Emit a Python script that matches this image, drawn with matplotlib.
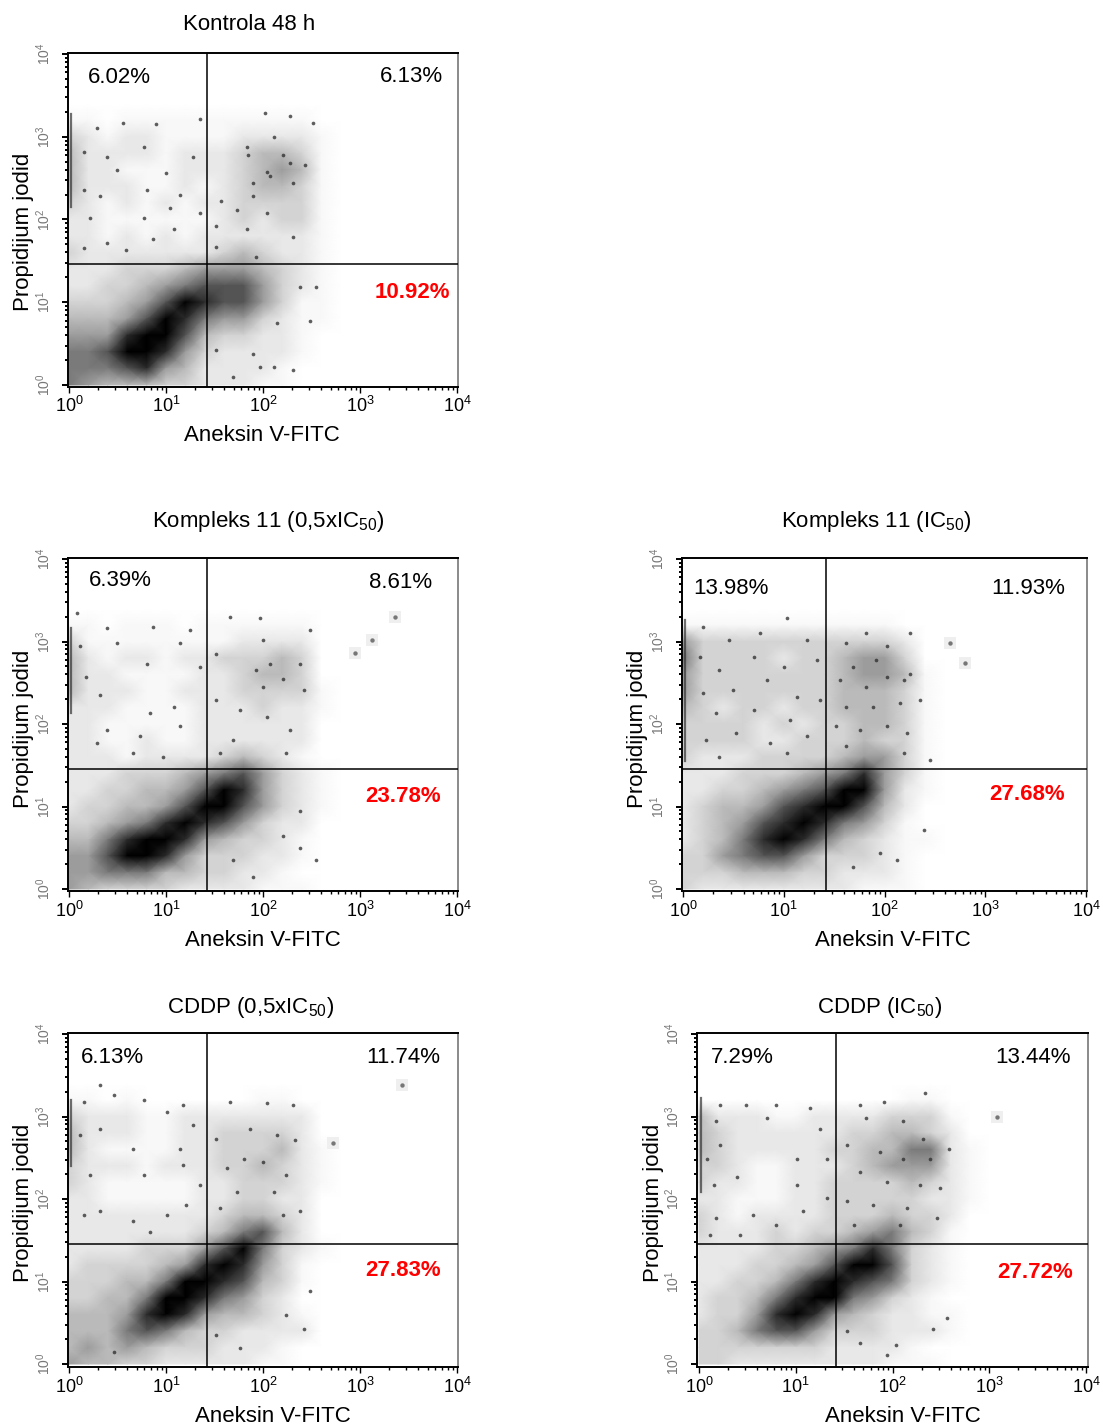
import matplotlib
matplotlib.use("Agg")
import matplotlib.pyplot as plt
from matplotlib.colors import PowerNorm
from matplotlib.ticker import LogLocator, NullFormatter
import numpy as np

plt.rcParams["font.family"] = ["Liberation Sans", "DejaVu Sans"]
plt.rcParams["mathtext.fontset"] = "custom"
plt.rcParams["mathtext.rm"] = "Liberation Sans"
plt.rcParams["mathtext.default"] = "regular"

W, H = 1103, 1425

# density: 0 = white, 9 = solid black
# rows go from log10(PI) = 3.4 down to 0, columns from log10(Annexin) = 0 upwards
LOG_Y = [3.4, 3.2, 3.0, 2.8, 2.6, 2.4, 2.2, 2.0, 1.8, 1.6, 1.4, 1.2, 1.0, 0.8, 0.6, 0.4, 0.2, 0.0]
LOG_X = [0.0, 0.2, 0.4, 0.6, 0.8, 1.0, 1.2, 1.4, 1.6, 1.8, 2.0, 2.2, 2.4, 2.6, 2.8, 3.0, 3.2]

kontrola = [
    [0],
    [1, 1, 0, 1, 1, 1, 1, 1, 1, 1, 1, 1, 1],
    [3, 2, 1, 2, 2, 1, 1, 1, 1, 2, 2, 2, 2, 1],
    [4, 2, 2, 2, 2, 1, 2, 2, 2, 3, 4, 4, 3, 1],
    [4, 2, 2, 1, 1, 1, 2, 2, 2, 3, 4, 5, 4, 1],
    [4, 2, 2, 2, 1, 1, 2, 1, 2, 3, 4, 4, 3, 1],
    [3, 2, 1, 2, 1, 2, 1, 2, 2, 3, 3, 3, 3, 1],
    [2, 2, 1, 1, 1, 1, 1, 1, 2, 3, 2, 3, 3, 1],
    [2, 2, 1, 2, 1, 2, 1, 2, 2, 2, 2, 2, 2, 1],
    [3, 2, 2, 2, 2, 2, 2, 2, 3, 4, 3, 2, 2, 1],
    [2, 2, 2, 3, 3, 3, 4, 5, 5, 5, 4, 3, 2, 1],
    [2, 2, 3, 3, 4, 5, 6, 7, 7, 7, 5, 3, 2, 1],
    [3, 3, 3, 4, 5, 7, 9, 8, 7, 7, 5, 3, 1, 1],
    [4, 4, 4, 5, 7, 9, 8, 6, 5, 5, 3, 2, 1, 1],
    [5, 5, 5, 8, 9, 9, 7, 4, 3, 3, 2, 2, 1],
    [6, 6, 7, 9, 9, 8, 5, 3, 2, 2, 2, 2, 1],
    [6, 6, 6, 7, 8, 5, 4, 2, 2, 2, 2, 1],
    [6, 5, 4, 4, 4, 3, 3, 2, 2, 2, 1, 1],
]
kompleks_half = [
    [0],
    [1, 1, 0, 1, 1, 1, 0, 1, 1, 1, 1, 1, 1],
    [3, 1, 1, 1, 1, 1, 1, 1, 1, 2, 2, 2, 2],
    [4, 2, 1, 2, 2, 1, 2, 2, 3, 3, 3, 4, 3],
    [4, 2, 2, 1, 1, 1, 1, 2, 2, 3, 4, 4, 3],
    [4, 2, 2, 2, 1, 1, 2, 2, 2, 3, 3, 3, 3, 1],
    [2, 2, 2, 1, 1, 1, 1, 2, 2, 2, 3, 2, 2, 1],
    [2, 2, 1, 1, 1, 1, 1, 2, 2, 2, 2, 2, 2],
    [2, 2, 1, 1, 2, 1, 1, 2, 2, 2, 2, 2, 2],
    [2, 2, 2, 1, 2, 2, 2, 2, 3, 4, 3, 2, 1],
    [2, 2, 2, 3, 3, 3, 4, 5, 6, 7, 5, 3, 2, 1],
    [2, 2, 3, 3, 4, 4, 5, 7, 9, 8, 5, 3, 2, 1],
    [2, 3, 3, 4, 4, 5, 7, 9, 9, 7, 5, 3, 2, 1],
    [3, 3, 4, 5, 6, 8, 9, 8, 7, 5, 3, 2, 2],
    [4, 4, 6, 8, 9, 9, 8, 5, 4, 3, 3, 2, 1],
    [5, 5, 7, 9, 9, 8, 5, 3, 3, 3, 2, 2, 1],
    [5, 5, 6, 6, 6, 4, 4, 3, 3, 2, 2, 1],
    [5, 4, 3, 3, 3, 3, 2, 2, 2, 2, 1, 1, 1],
]
kompleks_full = [
    [0],
    [1, 1, 1, 1, 1, 1, 1, 1, 1, 1, 1],
    [5, 3, 3, 3, 3, 3, 3, 3, 3, 3, 3, 2],
    [6, 3, 3, 3, 3, 2, 3, 3, 4, 5, 5, 3],
    [5, 3, 3, 3, 3, 3, 3, 3, 4, 5, 5, 4, 1],
    [5, 3, 3, 3, 3, 3, 3, 3, 4, 4, 4, 3, 1],
    [4, 3, 2, 3, 3, 2, 3, 3, 4, 4, 4, 3, 1],
    [3, 3, 3, 3, 2, 3, 2, 3, 3, 4, 4, 3, 1],
    [3, 3, 3, 3, 2, 2, 3, 3, 3, 4, 3, 3, 1],
    [3, 2, 2, 2, 3, 3, 3, 3, 4, 5, 5, 3, 1],
    [2, 2, 2, 3, 3, 3, 4, 5, 6, 8, 5, 3, 1],
    [2, 2, 3, 3, 4, 5, 6, 7, 9, 9, 5, 2, 1],
    [2, 3, 4, 4, 5, 7, 8, 9, 9, 7, 4, 2],
    [2, 3, 4, 5, 7, 8, 9, 8, 6, 5, 3, 1],
    [2, 3, 4, 6, 8, 9, 8, 6, 4, 3, 2, 1, 1],
    [3, 3, 5, 6, 7, 7, 5, 3, 3, 3, 2, 1],
    [3, 3, 3, 4, 4, 4, 3, 3, 2, 2, 2, 1],
    [3, 2, 2, 2, 2, 2, 2, 2, 2, 1, 1, 1],
]
cddp_half = [
    [0],
    [1, 1, 0, 1, 0, 0, 0, 0, 0, 0, 1, 1],
    [3, 2, 2, 2, 1, 1, 2, 2, 2, 2, 2, 2, 2],
    [4, 2, 2, 2, 1, 1, 2, 2, 3, 3, 3, 3, 2],
    [4, 2, 1, 1, 1, 1, 2, 2, 3, 3, 3, 4, 2, 1],
    [3, 2, 2, 2, 1, 2, 2, 2, 3, 3, 4, 3, 2, 1],
    [3, 2, 1, 1, 1, 1, 1, 2, 2, 3, 3, 3, 2, 1],
    [2, 2, 1, 1, 1, 1, 1, 2, 2, 3, 3, 2, 2],
    [2, 2, 2, 2, 2, 2, 2, 2, 3, 4, 4, 3, 2],
    [2, 2, 2, 2, 2, 2, 2, 3, 4, 6, 7, 4, 2],
    [2, 2, 2, 2, 3, 3, 3, 5, 7, 9, 6, 3, 2, 1],
    [2, 3, 3, 3, 3, 4, 5, 8, 9, 8, 5, 3, 1],
    [3, 3, 3, 4, 4, 6, 9, 9, 8, 7, 4, 3, 1],
    [3, 3, 4, 4, 6, 9, 9, 8, 6, 5, 3, 2],
    [4, 4, 4, 5, 8, 9, 8, 5, 4, 4, 3, 2, 1],
    [4, 4, 4, 6, 7, 6, 4, 3, 3, 2, 2, 2, 2],
    [4, 5, 4, 5, 4, 3, 3, 3, 2, 2, 2, 1],
    [5, 4, 4, 3, 3, 2, 2, 2, 2, 2, 1, 1],
]
cddp_full = [
    [0],
    [0, 0, 0, 0, 0, 0, 0, 0, 0, 0, 0, 1, 1],
    [4, 2, 2, 2, 1, 1, 2, 2, 2, 2, 3, 3, 3, 1],
    [4, 3, 2, 2, 2, 2, 2, 2, 3, 3, 4, 4, 3, 2],
    [4, 3, 2, 2, 2, 2, 2, 3, 3, 4, 4, 6, 6, 2, 1],
    [3, 3, 2, 1, 1, 2, 2, 2, 3, 4, 5, 5, 5, 2, 1],
    [3, 2, 2, 1, 1, 2, 2, 3, 3, 3, 3, 4, 3, 2, 1],
    [2, 2, 1, 1, 1, 2, 2, 3, 3, 3, 3, 3, 2, 2, 1],
    [3, 2, 1, 2, 2, 2, 2, 3, 3, 3, 4, 3, 3, 2],
    [3, 2, 2, 2, 3, 2, 3, 3, 4, 5, 6, 4, 3, 1],
    [2, 2, 2, 2, 3, 3, 4, 5, 6, 8, 6, 3, 2, 1],
    [2, 2, 2, 3, 3, 4, 5, 7, 9, 9, 7, 3, 2, 1],
    [2, 2, 3, 3, 4, 6, 8, 9, 8, 7, 6, 3, 2, 1],
    [2, 3, 3, 4, 6, 8, 9, 9, 6, 5, 3, 2, 1],
    [2, 3, 3, 5, 8, 9, 8, 5, 4, 3, 2, 2, 1, 1],
    [3, 3, 4, 6, 7, 7, 5, 3, 3, 3, 2, 2, 2, 1],
    [3, 3, 3, 3, 3, 3, 3, 2, 2, 2, 2, 1],
    [3, 3, 2, 2, 2, 2, 2, 2, 2, 2, 1, 1, 1],
]
densities = [kontrola, kompleks_half, kompleks_full, cddp_half, cddp_full]

# single dark events picked out by eye, in log10 units
dots_lx_1 = [1.83, 1.85, 2.11, 2.21, 2.04, 2.07, 2.28, 2.43, 1.90, 1.90, 2.31, 1.57, 2.04, 1.73, 1.52, 1.83, 2.31,
             1.93, 1.52, 2.52, 2.28, 2.02, .29, .56, .90, .39, .15, .77, 1.28, 1.0, .49, .15, .32, .8, 1.14, .22,
             .77, 1.04, 1.35, .39, .87, .59, 1.08, .15, 1.35, 1.9, 1.69, 2.31, 2.14, 2.48, 2.55, 2.38, 1.52, 1.97, 2.11]
dots_ly_1 = [2.88, 2.78, 3.00, 2.78, 2.58, 2.52, 2.68, 2.66, 2.44, 2.28, 2.44, 2.22, 2.08, 2.12, 1.92, 1.88, 1.79,
             1.55, 1.67, 3.17, 3.25, 3.29, 3.10, 3.17, 3.15, 2.76, 2.82, 2.88, 2.76, 2.56, 2.6, 2.36, 2.28, 2.36, 2.3,
             2.02, 2.02, 2.14, 2.08, 1.71, 1.77, 1.63, 1.88, 1.65, 3.22, .38, .1, .18, .75, .77, 1.19, 1.19, .42, .22, .22]
dots_lx_2 = [2.07, 1.93, 2.38, 2.0, 2.42, 2.21, 1.52, 1.52, 1.76, 2.04, 2.28, 1.69, 2.48, 1.66, 1.97, 2.24, 1.56, 2.0,
             .39, .87, 1.25, .11, .49, .8, 1.14, .18, .32, .84, 1.35, .39, .73, 1.14, .29, .66, .97, 1.08, .08,
             2.55, 2.38, 2.38, 1.69, 1.9, 2.21]
dots_ly_2 = [2.73, 2.65, 2.73, 2.45, 2.41, 2.55, 2.85, 2.29, 2.17, 2.09, 1.93, 1.81, 3.14, 3.3, 3.28, 1.65, 1.65, 3.02,
             3.16, 3.18, 3.14, 2.94, 2.98, 2.73, 2.98, 2.57, 2.35, 2.13, 2.69, 1.93, 1.85, 1.97, 1.77, 1.65, 1.6, 2.21, 3.34,
             .35, .5, .94, .35, .15, .64]
dots_lx_3 = [.2, .46, .76, 1.03, 1.23, .17, .36, .7, 1.0, 1.33, .2, .5, .83, 1.13, .33, .7, 1.06, 1.36, .23, .53, .86,
             1.23, .36, 1.03, 1.62, 1.82, 2.02, 2.25, 1.69, 1.92, 2.19, 2.25, 1.56, 1.82, 2.02, 1.62, 1.89, 2.15, 2.35,
             1.52, 1.76, 2.02, 2.22, 2.45, 1.62, 2.19, 2.39, 2.12, 1.69, 1.96]
dots_ly_3 = [3.18, 3.02, 3.1, 3.28, 3.02, 2.81, 2.65, 2.81, 2.69, 2.77, 2.37, 2.41, 2.53, 2.33, 2.13, 2.17, 2.05, 2.29,
             1.81, 1.89, 1.77, 1.85, 1.6, 1.65, 2.98, 3.1, 2.94, 3.1, 2.69, 2.77, 2.53, 2.61, 2.53, 2.45, 2.57, 2.21,
             2.21, 2.25, 2.29, 1.97, 1.93, 1.97, 1.89, 1.56, 1.73, 1.65, .72, .35, .27, .44]
dots_lx_4 = [.15, .46, .32, .77, 1.18, .11, .32, .66, 1.14, 1.01, 1.28, .22, .77, 1.18, 1.35, .15, .32, .66, 1.01, 1.21,
             .84, 1.66, 2.04, 2.31, 1.87, 2.14, 2.33, 2.0, 1.8, 1.63, 2.24, 1.52, 1.73, 2.11, 2.38, 1.56, 2.21,
             2.48, 2.42, 2.24, 1.52, 1.76, .46]
dots_ly_4 = [3.18, 3.26, 3.38, 3.2, 3.14, 2.77, 2.85, 2.61, 2.61, 3.06, 2.9, 2.29, 2.29, 2.41, 2.17, 1.81, 1.85, 1.73,
             1.81, 1.93, 1.6, 3.18, 3.16, 3.14, 2.85, 2.77, 2.71, 2.45, 2.49, 2.37, 2.29, 2.73, 2.09, 2.09, 1.85, 1.89,
             1.81, .88, .42, .6, .35, .19, .15]
dots_lx_5 = [.18, .49, .22, .8, 1.15, .08, .39, .22, .7, 1.01, 1.25, .15, 1.01, 1.32, .18, .56, .8, 1.08, 1.32, .42, .11,
             1.66, 1.91, 2.34, 2.11, 1.73, 2.32, 2.39, 2.58, 2.11, 1.87, 1.53, 1.66, 1.94, 2.28, 2.49, 1.53, 1.8, 2.15,
             2.46, 1.6, 2.08, 2.42, 2.56, 1.66, 1.94, 2.04, 1.53]
dots_ly_5 = [2.94, 3.14, 3.14, 3.14, 3.1, 2.49, 2.27, 2.65, 2.98, 2.49, 2.85, 2.17, 2.17, 2.49, 1.77, 1.81, 1.69, 1.85,
             2.01, 1.56, 1.56, 3.14, 3.18, 3.28, 2.94, 2.98, 2.73, 2.49, 2.61, 2.49, 2.57, 2.65, 2.33, 2.21, 2.17, 2.13,
             1.97, 1.93, 1.89, 1.77, 1.69, 1.69, .42, .56, .25, .11, .23, .4]
dots_lx = [dots_lx_1, dots_lx_2, dots_lx_3, dots_lx_4, dots_lx_5]
dots_ly = [dots_ly_1, dots_ly_2, dots_ly_3, dots_ly_4, dots_ly_5]

# lone events far right of the main cloud
outlier_x = [[], [890, 1320, 2290], [447, 630], [525, 2700], [1200]]
outlier_y = [[], [725, 1050, 2000], [955, 550], [480, 2400], [980]]

# events piled up on the left axis (y from, y to)
streak_low = [140, 135, 36, 250, 120]
streak_high = [1900, 1450, 1800, 1600, 1660]

gate_x = 26.2
gate_y = 28.7

titles = ["Kontrola 48 h", "Kompleks 11 (0,5xIC$_{50}$)", "Kompleks 11 (IC$_{50}$)",
          "CDDP (0,5xIC$_{50}$)", "CDDP (IC$_{50}$)"]
xlabel = "Aneksin V-FITC"
ylabel = "Propidijum jodid"
upper_left = ["6.02%", "6.39%", "13.98%", "6.13%", "7.29%"]
upper_right = ["6.13%", "8.61%", "11.93%", "11.74%", "13.44%"]
lower_right = ["10.92%", "23.78%", "27.68%", "27.83%", "27.72%"]

# pixel layout: frame l, r, t, b and tick 10^0, 10^4 in x and y
frames = [(67.5, 458, 52.5, 386.5), (67.5, 458, 558, 891), (682, 1087, 558, 891),
          (67.5, 458, 1033, 1367), (697, 1088, 1033, 1367)]
tick_px = [(69, 457, 385, 54), (69, 457, 889, 559), (683, 1086, 889, 559),
           (69, 457, 1364, 1034), (699, 1086, 1364, 1034)]
title_px = [(249.5, 24.5), (268, 522), (876, 522), (251, 1007), (880, 1007)]
xlabel_px = [(262, 435), (263, 940), (893, 940), (273, 1416), (903, 1416)]
ylabel_px = [(24, 232), (24, 729), (637, 729), (24, 1203), (654, 1203)]
ul_px = [(119, 77.5), (120, 580.5), (731, 588.5), (112, 1057.5), (742, 1057.5)]
ur_px = [(411, 76.5), (401, 582.5), (1028, 588.5), (403, 1057.5), (1033, 1057.5)]
lr_px = [(412, 293), (403, 796), (1027, 794), (403, 1271), (1035, 1273)]

fig = plt.figure(figsize=(W / 100, H / 100), dpi=100)


def put_text(pos, text, **kwargs):
    fig.text(pos[0] / W, 1 - pos[1] / H, text, ha="center", va="center", fontsize=16, **kwargs)


for i in range(5):
    l, r, t, b = frames[i]
    ax = fig.add_axes([l / W, 1 - b / H, (r - l) / W, (b - t) / H])
    ax.set_xscale("log")
    ax.set_yscale("log")

    grid = np.array([row + [0] * (len(LOG_X) - len(row)) for row in densities[i]], dtype=float)
    ax.pcolormesh(10.0 ** np.array(LOG_X), 10.0 ** np.array(LOG_Y), grid, shading="gouraud",
                  cmap="gray_r", norm=PowerNorm(gamma=1.6, vmin=0, vmax=9), zorder=1)

    ax.scatter(10.0 ** np.array(dots_lx[i]), 10.0 ** np.array(dots_ly[i]), s=7, color="#2a2a2a",
               alpha=0.75, lw=0, zorder=2)

    ax.plot([1.04, 1.04], [streak_low[i], streak_high[i]], color="#333333", lw=1.6, alpha=0.7, zorder=2)
    ax.scatter(outlier_x[i], outlier_y[i], s=80, marker="s", color="#efefef", lw=0, zorder=2)
    ax.scatter(outlier_x[i], outlier_y[i], s=10, color="#777777", lw=0, zorder=3)

    ax.axvline(gate_x, color="black", lw=1.1, zorder=4)
    ax.axhline(gate_y, color="black", lw=1.1, zorder=4)

    x0, x4, y0, y4 = tick_px[i]
    dx = (x4 - x0) / 4
    dy = (y0 - y4) / 4
    ax.set_xlim(10 ** ((l - x0) / dx), 10 ** ((r - x0) / dx))
    ax.set_ylim(10 ** ((y0 - b) / dy), 10 ** ((y0 - t) / dy))

    powers = [1, 10, 100, 1000, 10000]
    ax.set_xticks(powers)
    ax.set_xticklabels(["$10^{%d}$" % p for p in range(5)], fontsize=13)
    ax.set_yticks(powers)
    ax.set_yticklabels(["$10^{%d}$" % p for p in range(5)], fontsize=10, rotation=90,
                       va="center", color="#777777")
    ax.xaxis.set_minor_locator(LogLocator(base=10, subs=range(2, 10), numticks=10))
    ax.yaxis.set_minor_locator(LogLocator(base=10, subs=range(2, 10), numticks=10))
    ax.xaxis.set_minor_formatter(NullFormatter())
    ax.yaxis.set_minor_formatter(NullFormatter())
    ax.tick_params(axis="x", which="major", length=4, width=1, pad=3)
    ax.tick_params(axis="x", which="minor", length=2.2, width=1)
    ax.tick_params(axis="y", which="major", length=4.5, width=1.4, pad=6)
    ax.tick_params(axis="y", which="minor", length=2.5, width=1.4)

    for side in ["top", "left", "bottom"]:
        ax.spines[side].set_linewidth(1.4)
    ax.spines["right"].set_linewidth(1.4)
    ax.spines["right"].set_color("#8a8a8a")

    put_text(title_px[i], titles[i])
    put_text(xlabel_px[i], xlabel)
    put_text(ylabel_px[i], ylabel, rotation=90)
    put_text(ul_px[i], upper_left[i])
    put_text(ur_px[i], upper_right[i])
    put_text(lr_px[i], lower_right[i], color="#ff0000", fontweight="bold")

fig.savefig("out.png", dpi=100)
